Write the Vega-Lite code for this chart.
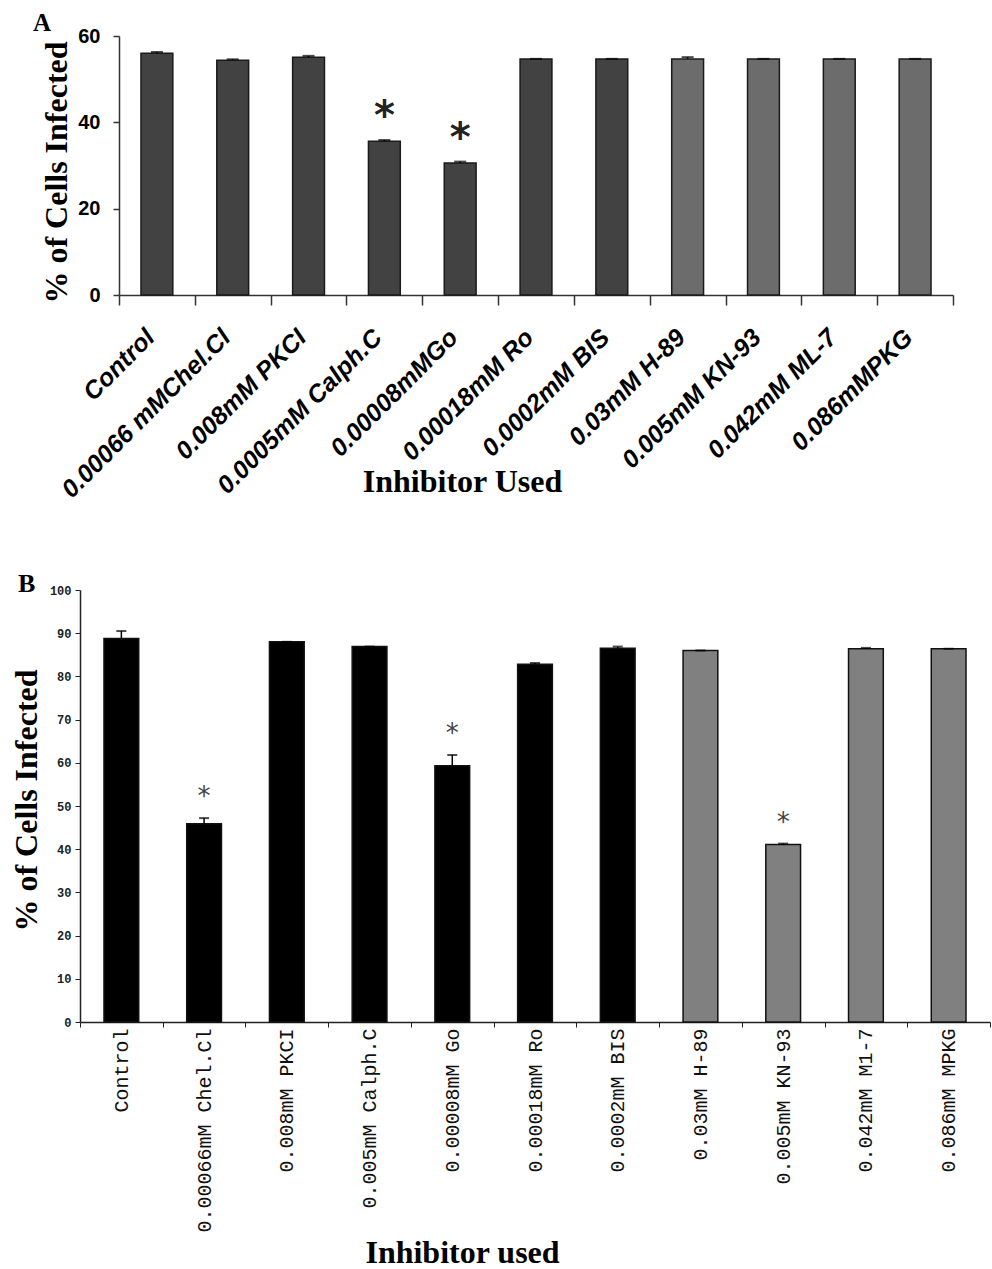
{
  "$schema": "https://vega.github.io/schema/vega-lite/v6.json",
  "background": "white",
  "padding": {"left": 10, "top": 11, "right": 0, "bottom": 0},
  "spacing": 68,
  "resolve": {"scale": {"color": "independent"}},
  "config": {"view": {"stroke": null}, "axis": {"grid": false}},
  "vconcat": [
    {
      "width": 873,
      "height": 259,
      "title": {"text": "A", "anchor": "start", "frame": "group", "dx": -47, "offset": -30, "baseline": "alphabetic", "font": "Liberation Serif", "fontSize": 25, "fontWeight": "bold", "color": "black"},
      "data": {"values": [
        {"inhibitor": "Control", "value": 56.0, "hi": 56.3, "cls": "control / PKC", "sig": ""},
        {"inhibitor": "0.00066 mMChel.Cl", "value": 54.4, "hi": 54.6, "cls": "control / PKC", "sig": ""},
        {"inhibitor": "0.008mM PKCI", "value": 55.1, "hi": 55.4, "cls": "control / PKC", "sig": ""},
        {"inhibitor": "0.0005mM Calph.C", "value": 35.6, "hi": 35.9, "cls": "control / PKC", "sig": "*"},
        {"inhibitor": "0.00008mMGo", "value": 30.6, "hi": 30.9, "cls": "control / PKC", "sig": "*"},
        {"inhibitor": "0.00018mM Ro", "value": 54.7, "hi": 54.7, "cls": "control / PKC", "sig": ""},
        {"inhibitor": "0.0002mM BIS", "value": 54.7, "hi": 54.7, "cls": "control / PKC", "sig": ""},
        {"inhibitor": "0.03mM H-89", "value": 54.7, "hi": 55.1, "cls": "other kinase", "sig": ""},
        {"inhibitor": "0.005mM KN-93", "value": 54.7, "hi": 54.7, "cls": "other kinase", "sig": ""},
        {"inhibitor": "0.042mM ML-7", "value": 54.7, "hi": 54.7, "cls": "other kinase", "sig": ""},
        {"inhibitor": "0.086mMPKG", "value": 54.7, "hi": 54.7, "cls": "other kinase", "sig": ""}
      ]},
      "encoding": {
        "x": {
          "field": "inhibitor", "type": "nominal", "sort": null,
          "scale": {"paddingInner": 0, "paddingOuter": 0.2572, "align": 1},
          "axis": {
            "title": "Inhibitor Used", "titleFont": "Liberation Serif", "titleFontSize": 32, "titleFontWeight": "bold", "titleColor": "black",
            "titleX": 382, "titleY": 196, "titleBaseline": "alphabetic", "titleAlign": "center", "titleAnchor": null,
            "labelAngle": -45, "labelAlign": "right", "labelBaseline": "middle",
            "labelFont": "Liberation Sans", "labelFontStyle": "italic", "labelFontWeight": "bold", "labelFontSize": 25, "labelColor": "black",
            "labelPadding": 28, "labelOffset": -7, "labelLimit": 500,
            "tickBand": "extent", "tickSize": 10, "tickColor": "#333", "tickWidth": 1.5,
            "domainColor": "#333", "domainWidth": 1.5, "domainDash": [0, 39, 834]
          }
        }
      },
      "layer": [
        {
          "mark": {"type": "bar", "width": {"band": 0.42}, "stroke": "#1a1a1a", "strokeWidth": 1.5},
          "encoding": {
            "y": {
              "field": "value", "type": "quantitative", "scale": {"domain": [0, 60], "nice": false},
              "axis": {
                "values": [0, 20, 40, 60], "title": "% of Cells Infected", "offset": -39,
                "titleFont": "Liberation Serif", "titleFontSize": 32, "titleFontWeight": "bold", "titleColor": "black",
                "titleX": -53, "titleY": 136, "titleBaseline": "alphabetic", "titleAngle": -90, "titleAlign": "center",
                "labelFont": "Liberation Sans", "labelFontWeight": "bold", "labelFontSize": 20, "labelColor": "black",
                "labelPadding": 13, "tickSize": 6, "tickColor": "#333", "tickWidth": 1.5,
                "domainColor": "#333", "domainWidth": 1.5
              }
            },
            "color": {"field": "cls", "type": "nominal", "scale": {"domain": ["control / PKC", "other kinase"], "range": ["#424242", "#6c6c6c"]}, "legend": null}
          }
        },
        {
          "mark": {"type": "rule", "color": "black", "strokeWidth": 1.5},
          "encoding": {"y": {"field": "value", "type": "quantitative", "title": "% of Cells Infected"}, "y2": {"field": "hi"}}
        },
        {
          "mark": {"type": "tick", "size": 12, "thickness": 2, "color": "black"},
          "encoding": {"y": {"field": "hi", "type": "quantitative", "title": "% of Cells Infected"}}
        },
        {
          "transform": [{"filter": "datum.sig != ''"}],
          "mark": {"type": "text", "font": "DejaVu Sans", "fontWeight": "bold", "fontSize": 40, "baseline": "alphabetic", "dy": -11, "color": "#222"},
          "encoding": {"y": {"field": "hi", "type": "quantitative", "title": "% of Cells Infected"}, "text": {"field": "sig"}}
        }
      ]
    },
    {
      "width": 910,
      "height": 432,
      "title": {"text": "B", "anchor": "start", "frame": "group", "dx": -62, "offset": -34, "baseline": "alphabetic", "font": "Liberation Serif", "fontSize": 26, "fontWeight": "bold", "color": "black"},
      "data": {"values": [
        {"inhibitor": "Control", "value": 88.8, "hi": 90.5, "cls": "control / PKC", "sig": ""},
        {"inhibitor": "0.00066mM Chel.Cl", "value": 45.9, "hi": 47.2, "cls": "control / PKC", "sig": "*"},
        {"inhibitor": "0.008mM PKCI", "value": 88.0, "hi": 88.0, "cls": "control / PKC", "sig": ""},
        {"inhibitor": "0.005mM Calph.C", "value": 86.9, "hi": 86.9, "cls": "control / PKC", "sig": ""},
        {"inhibitor": "0.00008mM Go", "value": 59.3, "hi": 61.8, "cls": "control / PKC", "sig": "*"},
        {"inhibitor": "0.00018mM Ro", "value": 82.8, "hi": 83.1, "cls": "control / PKC", "sig": ""},
        {"inhibitor": "0.0002mM BIS", "value": 86.5, "hi": 86.9, "cls": "control / PKC", "sig": ""},
        {"inhibitor": "0.03mM H-89", "value": 86.0, "hi": 86.0, "cls": "other kinase", "sig": ""},
        {"inhibitor": "0.005mM KN-93", "value": 41.1, "hi": 41.3, "cls": "other kinase", "sig": "*"},
        {"inhibitor": "0.042mM M1-7", "value": 86.4, "hi": 86.6, "cls": "other kinase", "sig": ""},
        {"inhibitor": "0.086mM MPKG", "value": 86.4, "hi": 86.4, "cls": "other kinase", "sig": ""}
      ]},
      "encoding": {
        "x": {
          "field": "inhibitor", "type": "nominal", "sort": null,
          "scale": {"paddingInner": 0, "paddingOuter": 0},
          "axis": {
            "title": "Inhibitor used", "titleFont": "Liberation Serif", "titleFontSize": 32, "titleFontWeight": "bold", "titleColor": "black",
            "titleX": 382, "titleY": 240, "titleBaseline": "alphabetic", "titleAlign": "center", "titleAnchor": null,
            "labelAngle": -90, "labelAlign": "right", "labelBaseline": "middle",
            "labelFont": "Liberation Mono", "labelFontSize": 20, "labelColor": "#111",
            "labelPadding": 1, "labelLimit": 500,
            "tickBand": "extent", "tickSize": 5, "tickColor": "#222", "tickWidth": 1,
            "domainColor": "#222", "domainWidth": 1.5
          }
        }
      },
      "layer": [
        {
          "mark": {"type": "bar", "width": {"band": 0.42}, "stroke": "#111", "strokeWidth": 1.5},
          "encoding": {
            "y": {
              "field": "value", "type": "quantitative", "scale": {"domain": [0, 100], "nice": false},
              "axis": {
                "values": [0, 10, 20, 30, 40, 50, 60, 70, 80, 90, 100], "title": "% of Cells Infected",
                "titleFont": "Liberation Serif", "titleFontSize": 32, "titleFontWeight": "bold", "titleColor": "black",
                "titleX": -44, "titleY": 210, "titleBaseline": "alphabetic", "titleAngle": -90, "titleAlign": "center",
                "labelFont": "Liberation Mono", "labelFontWeight": "bold", "labelFontSize": 12, "labelColor": "#222",
                "labelPadding": 4, "tickSize": 5, "tickColor": "#222", "tickWidth": 1,
                "domainColor": "#222", "domainWidth": 1.5
              }
            },
            "color": {"field": "cls", "type": "nominal", "scale": {"domain": ["control / PKC", "other kinase"], "range": ["#000000", "#808080"]}, "legend": null}
          }
        },
        {
          "mark": {"type": "rule", "color": "black", "strokeWidth": 1.5},
          "encoding": {"y": {"field": "value", "type": "quantitative", "title": "% of Cells Infected"}, "y2": {"field": "hi"}}
        },
        {
          "mark": {"type": "tick", "size": 10, "thickness": 2, "color": "black"},
          "encoding": {"y": {"field": "hi", "type": "quantitative", "title": "% of Cells Infected"}}
        },
        {
          "transform": [{"filter": "datum.sig != ''"}],
          "mark": {"type": "text", "font": "DejaVu Sans", "fontSize": 26, "baseline": "alphabetic", "dy": -13, "color": "#444"},
          "encoding": {"y": {"field": "hi", "type": "quantitative", "title": "% of Cells Infected"}, "text": {"field": "sig"}}
        }
      ]
    }
  ]
}
